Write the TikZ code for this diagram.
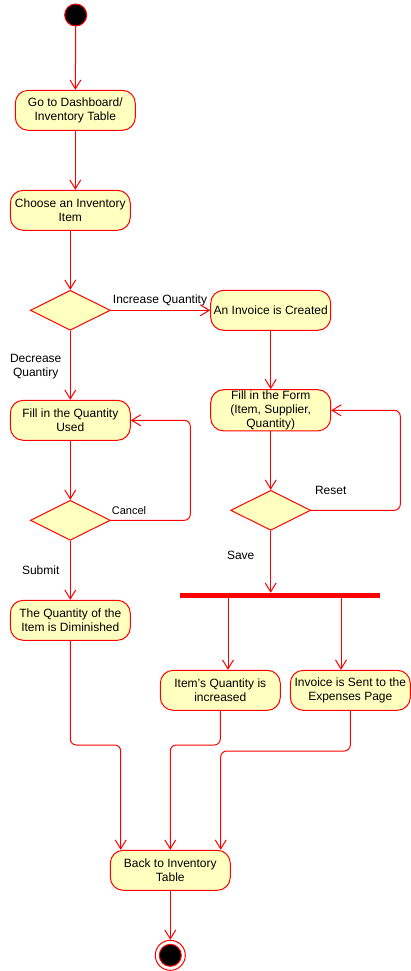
\documentclass[tikz,border=0pt]{standalone}
\usepackage{fontspec}
\setmainfont{Liberation Sans}
\usetikzlibrary{arrows.meta,shapes.geometric}
\definecolor{umlred}{HTML}{FF0000}
\definecolor{umlfill}{HTML}{FFFFC0}
\tikzset{
	action/.style={draw=umlred, fill=umlfill, line width=1pt, rounded corners=13pt, minimum width=120pt, minimum height=40pt, align=center, inner sep=1pt, font=\fontsize{12}{14}\selectfont},
	choice/.style={draw=umlred, fill=umlfill, line width=1pt, diamond, aspect=2, minimum width=80pt, minimum height=40pt, inner sep=0pt},
	flow/.style={draw=umlred, line width=1pt, -{Straight Barb[length=9pt,width=11pt]}, rounded corners=6pt},
	guard/.style={font=\fontsize{12}{14}\selectfont, align=center, inner sep=0pt},
}

\begin{document}
\begin{tikzpicture}[x=1pt, y=-1pt]
		%%%%% START %%%%%
		\useasboundingbox (0,0) rectangle (411,971);
		
		\node[circle, draw=umlred, fill=black, line width=1pt, minimum size=22pt, inner sep=0pt] (start) at (75.7,15) {};
		
		\node[action] (go) at (75.3,110.3) {Go to Dashboard/\\Inventory Table};
		\node[action] (choose) at (70.3,210.3) {Choose an Inventory\\Item};
		\node[choice] (d1) at (70.3,310.3) {};
		\node[action] (invoice) at (270.7,310.3) {An Invoice is Created};
		
		\node[action] (qty) at (70.3,420.3) {Fill in the Quantity\\Used};
		\node[action] (form) at (270.7,410.3) {Fill in the Form\\(Item, Supplier,\\Quantity)};
		\node[choice] (d2) at (70.3,520.3) {};
		\node[choice] (d3) at (270.7,510.3) {};
		
		\node[fill=umlred, minimum width=200pt, minimum height=5pt, inner sep=0pt] (fork) at (280.3,595.5) {};
		
		\node[action] (dim) at (70.3,620.3) {The Quantity of the\\Item is Diminished};
		\node[action] (inc) at (220.3,690.3) {Item's Quantity is\\increased};
		\node[action] (sent) at (350.3,690.3) {Invoice is Sent to the\\Expenses Page};
		\node[action] (back) at (170.3,870.3) {Back to Inventory\\Table};
		
		\node[circle, draw=umlred, fill=white, line width=1pt, minimum size=30pt, inner sep=0pt] (stop) at (170.3,955.3) {};
		\node[circle, draw=umlred, fill=black, line width=1pt, minimum size=22pt, inner sep=0pt] (stopdot) at (stop) {};
		
		% guards
		\node[guard] (lincr) at (160,300.7) {Increase Quantity};
		\node[guard] (ldecr) at (35.7,366.5) {Decrease\\Quantiry};
		\node[guard, font=\fontsize{11}{13}\selectfont] (lcancel) at (129,511) {Cancel};
		\node[guard] (lreset) at (330.7,490.7) {Reset};
		\node[guard] (lsave) at (240.7,555.7) {Save};
		\node[guard] (lsubmit) at (40.7,570.5) {Submit};
		
		\coordinate (c1) at (190.3,520.3);
		\coordinate (r1) at (400.3,510.3);
		\coordinate (f1) at (228,598);
		\coordinate (f2) at (341,598);
		\coordinate (j1) at (120.7,745);
		\coordinate (j2) at (170.3,745);
		\coordinate (j3) at (220.7,751);
		
		\draw[flow] (start) -- (go);
		\draw[flow] (go.south) -- (go.south |- choose.north);
		\draw[flow] (choose) -- (d1);
		\draw[flow] (d1) -- (invoice);
		\draw[flow] (d1) -- (qty);
		\draw[flow] (invoice) -- (form);
		\draw[flow] (qty) -- (d2);
		\draw[flow] (d2.east) -- (c1) |- (qty.east);
		\draw[flow] (form) -- (d3);
		\draw[flow] (d3.east) -- (r1) |- (form.east);
		\draw[flow] (d3.south) -- (d3.south |- fork.north);
		\draw[flow] (d2) -- (dim);
		\draw[flow] (fork.south -| f1) -- (f1 |- inc.north);
		\draw[flow] (fork.south -| f2) -- (f2 |- sent.north);
		
		\draw[flow] (dim.south) |- (j1) -- (j1 |- back.north);
		\draw[flow] (inc.south) |- (j2) -- (back.north);
		\draw[flow] (sent.south) |- (j3) -- (j3 |- back.north);
		\draw[flow] (back) -- (stop);
		
		%%%%% END %%%%%
\end{tikzpicture}
\end{document}
